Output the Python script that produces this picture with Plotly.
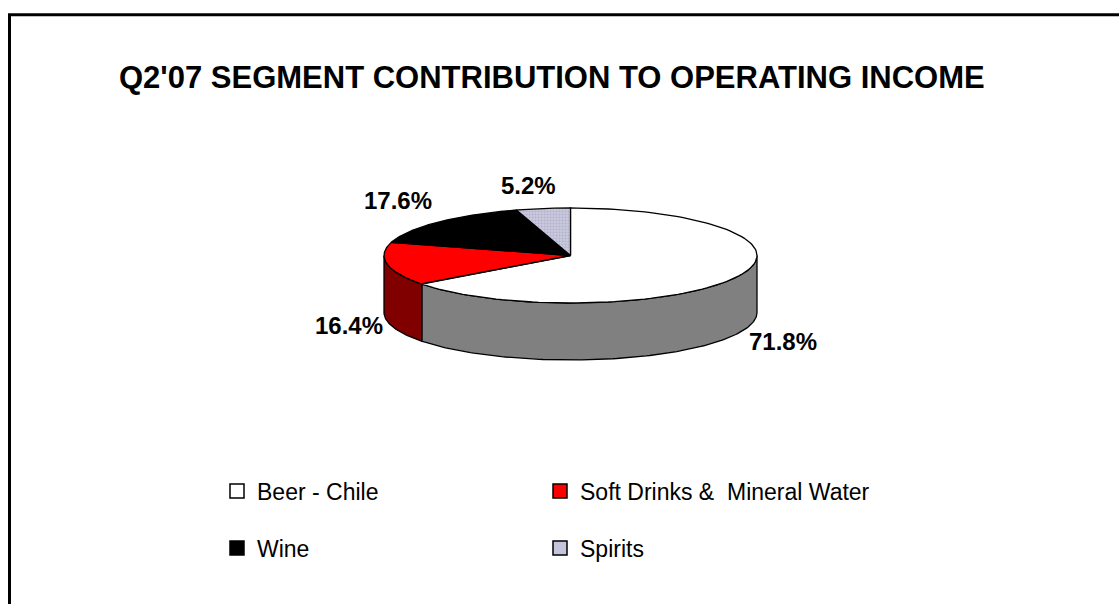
import numpy as np
import plotly.graph_objects as go

# ---- data ----
categories = ["Beer - Chile", "Soft Drinks &  Mineral Water", "Wine", "Spirits"]
values = [71.8, 16.4, 17.6, 5.2]
title_text = "Q2'07 SEGMENT CONTRIBUTION TO OPERATING INCOME"

# ---- styles ----
top_colors = ["#FFFFFF", "#FF0000", "#000000", "#C4C4DC"]
side_colors = ["#808080", "#800000", "#000000", "#8A8AA6"]
label_pos = [(783, 341), (349, 325), (398, 200), (528, 185)]
legend_pos = [(217, 491), (540, 491), (217, 548), (540, 548)]

W, H = 1119, 604
cx, cy, rx, ry, depth = 570.5, 255.5, 186.5, 47.5, 57
FONT = "Liberation Sans, Arial, sans-serif"

total = sum(values)
angles = [v / total * 360 for v in values]


def arc(a0, a1, dy=0, n=120):
    t = np.radians(np.linspace(a0, a1, n))
    return cx + rx * np.cos(t), cy - ry * np.sin(t) + dy


fig = go.Figure()

# slice angle ranges (start at 12 o'clock, clockwise)
ranges = []
a = 90.0
for ang in angles:
    ranges.append((a, a - ang))
    a -= ang

# sides (front half, 180..360 deg)
for i, (a0, a1) in enumerate(ranges):
    lo, hi = a1, a0
    for wlo, whi in [(-180, 0), (180, 360), (-540, -360)]:
        s, e = max(lo, wlo), min(hi, whi)
        if e > s:
            tx, ty = arc(s, e)
            bx, by = arc(e, s, dy=depth)
            fig.add_trace(go.Scatter(
                x=np.concatenate([tx, bx, tx[:1]]),
                y=np.concatenate([ty, by, ty[:1]]),
                mode="lines", fill="toself", fillcolor=side_colors[i],
                line=dict(color="black", width=1.3),
                hoverinfo="skip", showlegend=False))

# top slices
for i, (a0, a1) in enumerate(ranges):
    ax, ay = arc(a0, a1)
    px = np.concatenate([[cx], ax, [cx]])
    py = np.concatenate([[cy], ay, [cy]])
    kw = {}
    if i == 3:
        kw["fillpattern"] = dict(shape=".", bgcolor="#C8C8E0", fgcolor="#9A9AB0",
                                 size=3, solidity=0.35)
    fig.add_trace(go.Scatter(
        x=px, y=py, mode="lines", fill="toself", fillcolor=top_colors[i],
        line=dict(color="black", width=1.3), name=categories[i],
        hoverinfo="skip", showlegend=False, **kw))

# legend-only entries (one legend per entry, laid out in a 2x2 grid)
legend_ids = ["legend", "legend2", "legend3", "legend4"]
for i, cat in enumerate(categories):
    fig.add_trace(go.Scatter(
        x=[None], y=[None], mode="markers", name=cat,
        marker=dict(symbol="square", size=14, color=top_colors[i],
                    line=dict(color="black", width=1.5)),
        legend=legend_ids[i], showlegend=True))

# percentage labels
for v, (lx, ly) in zip(values, label_pos):
    fig.add_annotation(x=lx, y=ly, xref="x", yref="y", text=f"{v}%",
                       showarrow=False,
                       font=dict(family=FONT, size=24, color="black", weight="bold"))

# title
fig.add_annotation(x=117 / W, y=1 - 77 / H, xref="paper", yref="paper",
                   xanchor="left", yanchor="middle", text=title_text,
                   showarrow=False,
                   font=dict(family=FONT, size=31, color="black", weight="bold"))

# border
fig.add_shape(type="rect", xref="paper", yref="paper",
              x0=9.5 / W, x1=1.05, y0=-0.05, y1=1 - 14.8 / H,
              line=dict(color="black", width=3))

leg_common = dict(orientation="h", xanchor="left", yanchor="middle",
                  bgcolor="rgba(0,0,0,0)", itemclick=False, itemdoubleclick=False,
                  font=dict(family=FONT, size=23, color="black"))

legends = {lid: dict(x=lx / W, y=1 - ly / H, **leg_common)
           for lid, (lx, ly) in zip(legend_ids, legend_pos)}

fig.update_layout(
    width=W, height=H,
    margin=dict(l=0, r=0, t=0, b=0),
    paper_bgcolor="white", plot_bgcolor="white",
    xaxis=dict(range=[0, W], visible=False, fixedrange=True),
    yaxis=dict(range=[H, 0], visible=False, fixedrange=True),
    **legends,
)

fig.write_html("out.html")
